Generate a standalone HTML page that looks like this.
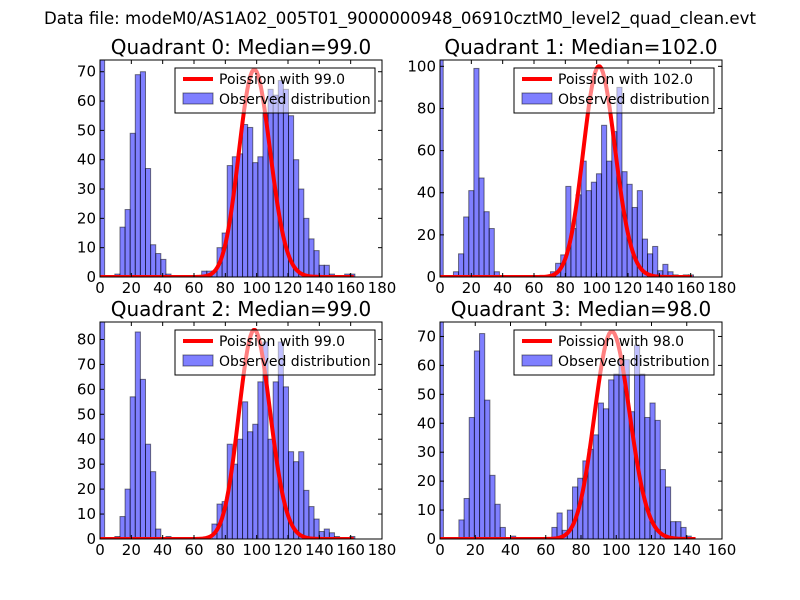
<!DOCTYPE html>
<html><head><meta charset="utf-8"><style>
html,body{margin:0;padding:0;background:#fff;}
svg{display:block;font-family:"DejaVu Sans","Liberation Sans",sans-serif;}
</style></head><body>
<svg id="fig" width="800" height="600" viewBox="0 0 800 600" xmlns="http://www.w3.org/2000/svg">
<rect width="800" height="600" fill="#fff"/>
<text x="400" y="24" text-anchor="middle" font-size="16.6">Data file: modeM0/AS1A02_005T01_9000000948_06910cztM0_level2_quad_clean.evt</text>
</svg>
<script>
const q0Counts=[74,0,0,1,17,23,49,69,70,37,11,8,6,1,0,0,0,0,0,0,2,2,2,10,15,38,41,42,52,51,39,41,56,64,62,67,64,55,40,30,20,13,9,4,4,1,0,0,1,1];
const q1Counts=[103,0,0,2.5,11,28.5,41,99,47,31,23,2.5,0,0,0,0,0,0,0,0,0,0,2.5,6.5,10.5,43,23,39,55,41,45,49,72,55,69,90,50,44,33,41,18,11,14.5,3,6,2.5,1,0,1,1];
const q2Counts=[87,0,0,1,9,20,57,83,64,38,27,4,0,1,0,0,0,0,0,0,0,0,6,14,15,38,30,40,55,43,46,63,79,40,63,79,61,35,31,35,19.5,13,8,3,4,2.5,1,0,0,1];
const q3Counts=[75,0,0,0,6.6,14,42,65,71,48,22,12,4,0,1,0,0,0,0,0,0,0,4,9,3,10,18,21,27,31,36,47,45,55,57,62,62,44,67,57,42,47,41,24,18,6,6,4,1,0];
const medians=[99.0,102.0,99.0,98.0];
const curvePeaks=[70.7,100,83.8,71.7];
const binStarts=[-0.3,-1.2,-0.3,-1.0];
const binWidths=[3.26,3.26,3.26,2.93];
const xMaxes=[180,180,180,160];
const yStep=[10,20,10,10];

const NS="http://www.w3.org/2000/svg";
const svg=document.getElementById('fig');
function mk(tag,attrs,parent){const e=document.createElementNS(NS,tag);for(const k in attrs)e.setAttribute(k,attrs[k]);(parent||svg).appendChild(e);return e;}
function lgam(n){let s=0;for(let i=2;i<=n;i++)s+=Math.log(i);return s;}
function pois(k,l){return Math.exp(k*Math.log(l)-l-lgam(k));}

const boxes=[[100,60,382,277],[440,60,722,277],[100,322,382,539],[440,322,722,539]];
const allCounts=[q0Counts,q1Counts,q2Counts,q3Counts];
for(let q=0;q<4;q++){
  const [L,T,R,B]=boxes[q];const counts=allCounts[q];
  const ymax=Math.max(...counts);const xmax=xMaxes[q];
  const X=v=>L+(v/xmax)*(R-L);const Y=v=>B-(v/ymax)*(B-T);
  const g=mk('g',{});
  
  
  const clip=mk('clipPath',{id:'c'+q},g);mk('rect',{x:L,y:T,width:R-L,height:B-T},clip);
  const title=mk('text',{x:(L+R)/2,y:T-6,'text-anchor':'middle','font-size':'20'},g);
  title.textContent='Quadrant '+q+': Median='+medians[q].toFixed(1);
  
  
  const pg=mk('g',{'clip-path':'url(#c'+q+')'},g);
  counts.forEach((c,i)=>{
    if(c<=0)return;
    const x0=X(binStarts[q]+i*binWidths[q]),x1=X(binStarts[q]+(i+1)*binWidths[q]);
    const r=mk('rect',{x:x0,y:Y(c),width:x1-x0,height:B-Y(c),fill:'#0000ff','fill-opacity':0.5,stroke:'#000','stroke-opacity':0.5,'stroke-width':1},pg);
    
    
  });
  const lam=medians[q];const pk=pois(Math.floor(lam),lam);
  const xEnd=binStarts[q]+counts.length*binWidths[q];
  let d='';for(let k=0;k<=Math.floor(xEnd);k++){d+=(k?'L':'M')+X(k).toFixed(2)+','+Y(pois(k,lam)/pk*curvePeaks[q]).toFixed(2);}
  const cv=mk('path',{d:d,fill:'none',stroke:'#ff0000','stroke-width':4,'stroke-linejoin':'round'},pg);
  
  
  const lx=L+(q%2?74:75),ly=T+8,lw=200,lh=45;
  const lg=mk('g',{},g);
  
  
  mk('rect',{x:lx,y:ly,width:lw,height:lh,fill:'#fff','fill-opacity':0.5,stroke:'#000','stroke-width':1},lg);
  mk('line',{x1:lx+8,x2:lx+38,y1:ly+11,y2:ly+11,stroke:'#ff0000','stroke-width':4},lg);
  const t1=mk('text',{x:lx+44,y:ly+16,'font-size':'14'},lg);t1.textContent='Poission with '+medians[q].toFixed(1);
  
  
  mk('rect',{x:lx+8,y:ly+25,width:30,height:11,fill:'#0000ff','fill-opacity':0.5,stroke:'#000','stroke-opacity':0.5},lg);
  const t2=mk('text',{x:lx+44,y:ly+36,'font-size':'14'},lg);t2.textContent='Observed distribution';
  
  
  mk('rect',{x:L,y:T,width:R-L,height:B-T,fill:'none',stroke:'#000','stroke-width':1},g);
  for(let v=0;v<=xmax;v+=20){
    const x=X(v);
    mk('line',{x1:x,x2:x,y1:B,y2:B-4,stroke:'#000'},g);mk('line',{x1:x,x2:x,y1:T,y2:T+4,stroke:'#000'},g);
    const t=mk('text',{x:x,y:B+16,'text-anchor':'middle','font-size':'15'},g);t.textContent=v;
    
    
  }
  for(let v=0;v<=ymax;v+=yStep[q]){
    const y=Y(v);
    mk('line',{x1:L,x2:L+4,y1:y,y2:y,stroke:'#000'},g);mk('line',{x1:R,x2:R-4,y1:y,y2:y,stroke:'#000'},g);
    const t=mk('text',{x:L-4,y:y+5,'text-anchor':'end','font-size':'15'},g);t.textContent=v;
    
    
  }
}
</script>
</body></html>
